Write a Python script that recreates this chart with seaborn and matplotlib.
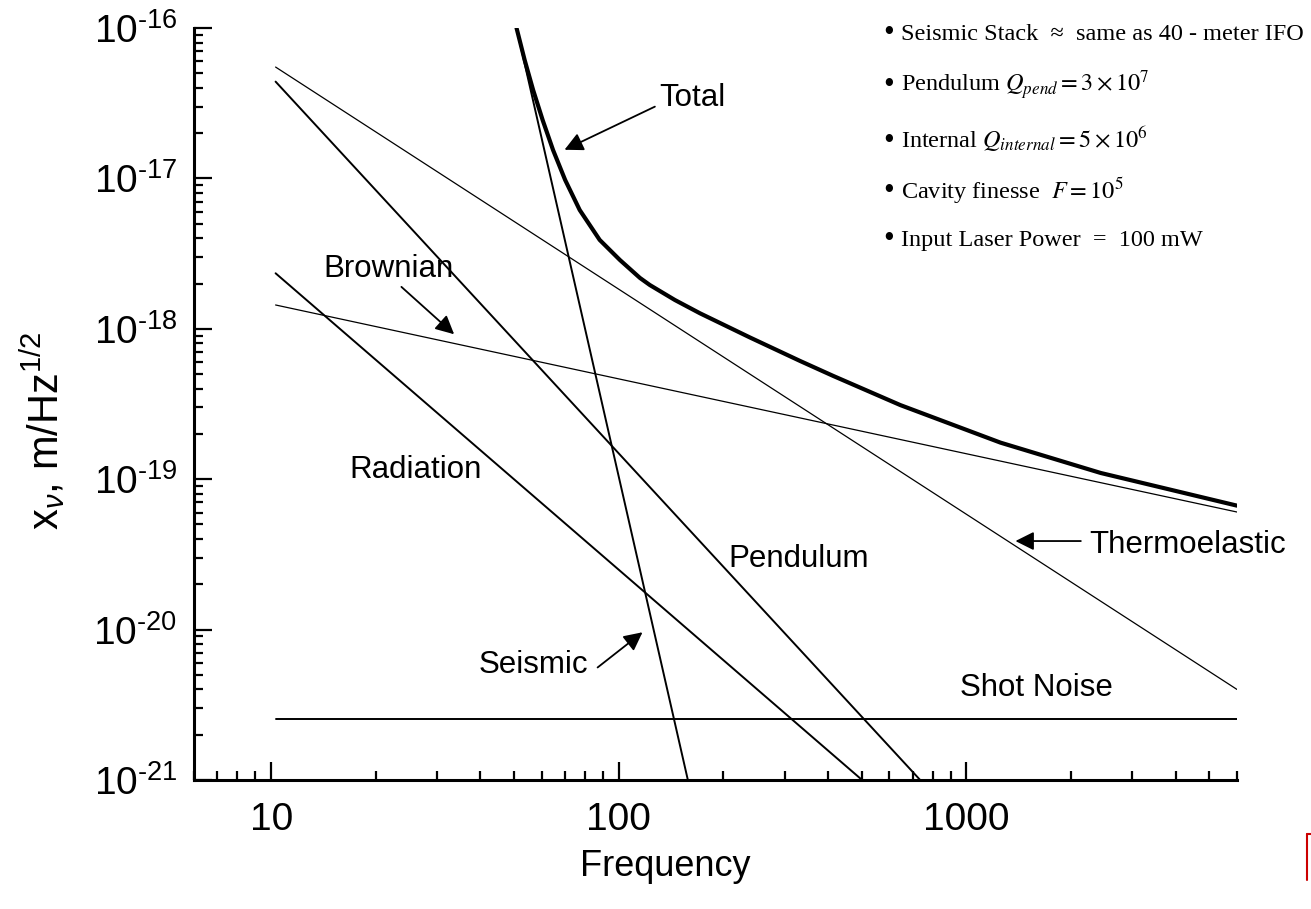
import numpy as np
import matplotlib
matplotlib.use("Agg")
import matplotlib.pyplot as plt
import seaborn as sns
from matplotlib.ticker import FixedLocator, FixedFormatter, LogLocator, NullFormatter
from matplotlib.lines import Line2D

# noise budget curves (frequency in Hz, x_nu in m/Hz^1/2)
shot_f = [10.3, 6000]
shot_x = [2.55e-21, 2.55e-21]

thermo_f = [10.3, 6000]
thermo_x = [5.5e-17, 4.0e-21]

brown_f = [10.3, 6000]
brown_x = [1.44e-18, 6.05e-20]

pend_f = [10.3, 736]
pend_x = [4.4e-17, 1.0e-21]

rad_f = [10.3, 501]
rad_x = [2.34e-18, 1.0e-21]

seis_f = [50.8, 158]
seis_x = [1.0e-16, 1.0e-21]

total_f = [50.8, 53.6, 56.7, 60.4, 64.7, 70.1, 77.2, 88.1, 100.7, 115, 122.8,
           145, 171.2, 238.5, 332.3, 413.8, 645.4, 1253, 2433, 6000]
total_x = [1.0e-16, 6.13e-17, 3.87e-17, 2.44e-17, 1.544e-17, 9.76e-18, 6.16e-18,
           3.90e-18, 2.87e-18, 2.18e-18, 1.955e-18, 1.554e-18, 1.268e-18,
           8.75e-19, 6.11e-19, 4.86e-19, 3.11e-19, 1.75e-19, 1.10e-19, 6.67e-20]

x_ticks = [10, 100, 1000]
x_tick_labels = ["10", "100", "1000"]
y_exponents = [-21, -20, -19, -18, -17, -16]

notes = [
    "Seismic Stack  \u2248  same as 40 - meter IFO",
    "Pendulum $Q_{pend} = 3\\times10^{7}$",
    "Internal $Q_{internal} = 5\\times10^{6}$",
    "Cavity finesse  $F = 10^{5}$",
    "Input Laser Power  =  100 mW",
]

sns.set_theme(style="ticks")
plt.rcParams['font.family'] = ['Liberation Sans', 'DejaVu Sans']
plt.rcParams['mathtext.fontset'] = 'custom'
plt.rcParams['mathtext.rm'] = 'Liberation Sans'
plt.rcParams['mathtext.it'] = 'Liberation Sans:italic'
plt.rcParams['mathtext.bf'] = 'Liberation Sans:bold'
plt.rcParams['axes.unicode_minus'] = False

W, H = 1311, 909
fig = plt.figure(figsize=(W / 100, H / 100), dpi=100)
ax = fig.add_axes([194 / W, 1 - 780 / H, (1237 - 194) / W, (780 - 28) / H])

curves = [
    (shot_f, shot_x, 1.4),
    (thermo_f, thermo_x, 0.9),
    (brown_f, brown_x, 0.9),
    (pend_f, pend_x, 1.4),
    (rad_f, rad_x, 1.4),
    (seis_f, seis_x, 1.4),
    (total_f, total_x, 3.0),
]
for f, x, lw in curves:
    sns.lineplot(x=f, y=x, ax=ax, color="black", linewidth=lw,
                 estimator=None, sort=False)

ax.set_xscale("log")
ax.set_yscale("log")
ax.set_xlim(6, 6000)
ax.set_ylim(1e-21, 1e-16)

ax.xaxis.set_major_locator(FixedLocator(x_ticks))
ax.xaxis.set_major_formatter(FixedFormatter(x_tick_labels))
ax.xaxis.set_minor_locator(LogLocator(base=10, subs=np.arange(2, 10), numticks=20))
ax.xaxis.set_minor_formatter(NullFormatter())

# hyphen (not a minus sign) in the exponents, as in the reference
ax.yaxis.set_major_locator(FixedLocator([10.0 ** e for e in y_exponents]))
ax.yaxis.set_major_formatter(FixedFormatter(
    ["$10^{\\text{-%d}}$" % abs(e) for e in y_exponents]))
ax.yaxis.set_minor_locator(LogLocator(base=10, subs=np.arange(2, 10), numticks=20))
ax.yaxis.set_minor_formatter(NullFormatter())

ax.tick_params(which="both", direction="in", top=False, right=False, width=1.6,
               colors="black", labelsize=28)
ax.tick_params(which="major", length=13)
ax.tick_params(which="minor", length=6.5)
ax.tick_params(axis="x", pad=16)
ax.tick_params(axis="y", pad=12)

sns.despine(ax=ax)
for side in ["left", "bottom"]:
    ax.spines[side].set_linewidth(2.2)
    ax.spines[side].set_color("black")

ax.set_xlabel("Frequency", fontsize=26, color="black")
ax.xaxis.set_label_coords(0.4516, -0.092)
ax.set_ylabel("x$_{\\nu}$, m/Hz$^{1/2}$", fontsize=30, color="black")
ax.yaxis.set_label_coords(-0.121, 0.465)

# curve labels and arrows
lab = dict(fontsize=22.5, color="black")
arrow = dict(arrowstyle="-|>", color="black", lw=1.3, mutation_scale=28,
             shrinkA=0, shrinkB=0)

ax.text(131, 3.4e-17, "Total", ha="left", va="center", **lab)
ax.annotate("", xy=(69.8, 1.55e-17), xytext=(127, 3.0e-17), arrowprops=arrow)

ax.text(21.7, 2.5e-18, "Brownian", ha="center", va="center", **lab)
ax.annotate("", xy=(33.6, 9.2e-19), xytext=(23.7, 1.9e-18), arrowprops=arrow)

ax.text(26.0, 1.15e-19, "Radiation", ha="center", va="center", **lab)
ax.text(330, 2.94e-20, "Pendulum", ha="center", va="center", **lab)

ax.text(56.9, 5.8e-21, "Seismic", ha="center", va="center", **lab)
ax.annotate("", xy=(117, 9.6e-21), xytext=(86.9, 5.6e-21), arrowprops=arrow)

ax.text(2249, 3.65e-20, "Thermoelastic", ha="left", va="center", **lab)
ax.annotate("", xy=(1383, 3.88e-20), xytext=(2133, 3.88e-20), arrowprops=arrow)

ax.text(1592, 4.09e-21, "Shot Noise", ha="center", va="center", **lab)

# parameter notes, top right
baselines = [40, 92, 148, 198, 246]
for txt, b in zip(notes, baselines):
    fig.text(883 / W, 1 - (b + 1) / H, "\u2022", ha="left", va="baseline",
             fontsize=22, family=["Liberation Serif", "DejaVu Serif"], color="black")
    fig.text(901 / W, 1 - b / H, txt, ha="left", va="baseline", fontsize=17.5,
             family=["Liberation Serif", "DejaVu Serif"], color="black",
             math_fontfamily="stix")

# small red mark at bottom right corner of the original
fig.add_artist(Line2D([1307 / W, 1307 / W], [1 - 834 / H, 1 - 880 / H],
                      color="#cc0000", lw=1.5))
fig.add_artist(Line2D([1307 / W, 1311 / W], [1 - 834 / H, 1 - 834 / H],
                      color="#cc0000", lw=1.5))

fig.savefig("out.png", dpi=100, facecolor="white")
